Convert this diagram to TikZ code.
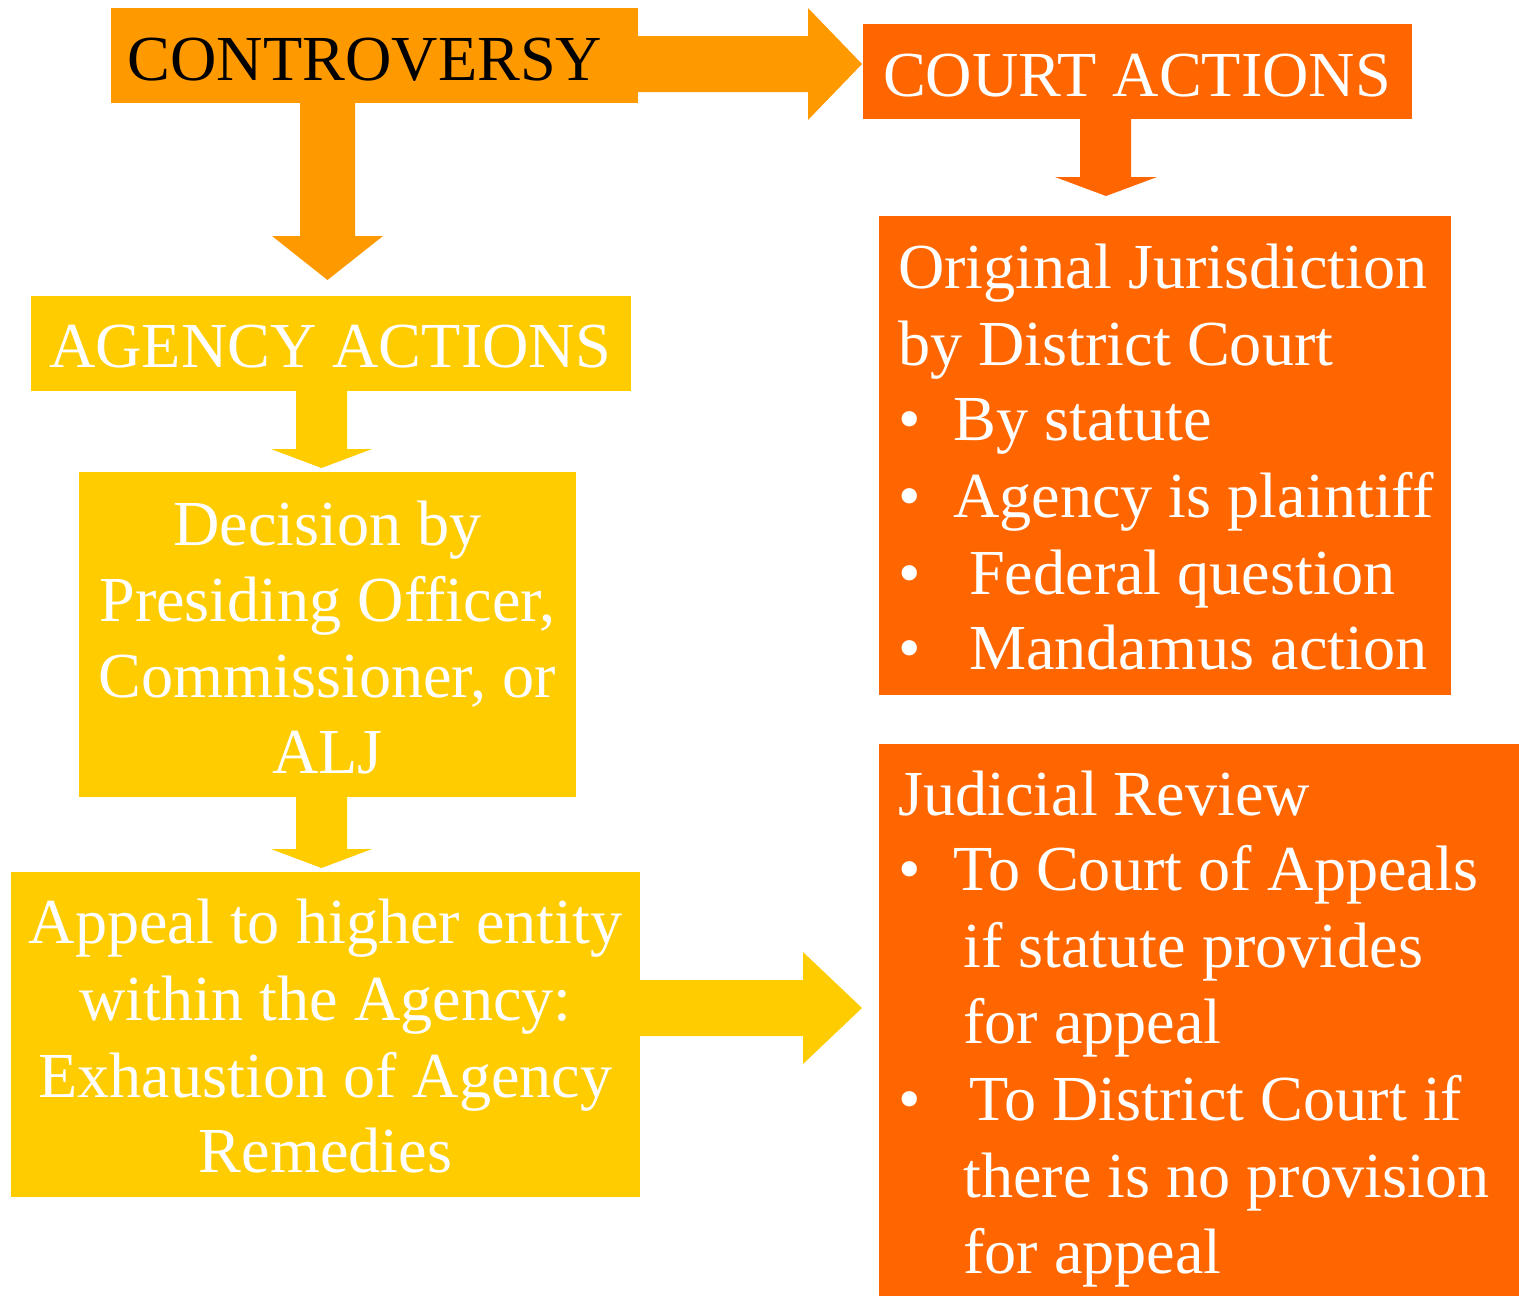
\documentclass[tikz,border=0pt]{standalone}
\usepackage{fontspec}
\setmainfont{Liberation Serif}
\definecolor{cOrangeA}{HTML}{FF9900}
\definecolor{cYellow}{HTML}{FFCC00}
\definecolor{cOrangeB}{HTML}{FF6600}
\begin{document}
\begin{tikzpicture}[x=1pt,y=-1pt,
  boxnode/.style={draw=none, inner sep=0pt, anchor=north west},
  txt/.style={font=\fontsize{64.2}{76}\selectfont, inner sep=0pt, text=white},
  ctxt/.style={txt, anchor=base},
  ltxt/.style={txt, anchor=base west}]
\useasboundingbox (0,0) rectangle (1519,1296);
% boxes
\node[boxnode, fill=cOrangeA, minimum width=527pt, minimum height=95pt] (contro) at (111,8) {};
\node[boxnode, fill=cOrangeB, minimum width=549pt, minimum height=95pt] (court) at (863,24) {};
\node[boxnode, fill=cYellow, minimum width=600pt, minimum height=95pt] (agency) at (31,296) {};
\node[boxnode, fill=cYellow, minimum width=497pt, minimum height=325pt] (decision) at (79,472) {};
\node[boxnode, fill=cYellow, minimum width=629pt, minimum height=325pt] (appeal) at (11,872) {};
\node[boxnode, fill=cOrangeB, minimum width=572pt, minimum height=479pt] (orig) at (879,216) {};
\node[boxnode, fill=cOrangeB, minimum width=640pt, minimum height=552pt] (judicial) at (879,744) {};
% block arrows
\fill[cOrangeA] (638,36) -- (808,36) -- (808,8) -- (862,64) -- (808,120) -- (808,92) -- (638,92) -- cycle;
\fill[cOrangeA] (300,103) -- (300,236) -- (272,236) -- (327.5,280) -- (383,236) -- (355,236) -- (355,103) -- cycle;
\fill[cYellow] (296,391) -- (296,449) -- (271,449) -- (321.5,468) -- (372,449) -- (347,449) -- (347,391) -- cycle;
\fill[cYellow] (296,797) -- (296,849) -- (271,849) -- (321.5,868) -- (372,849) -- (347,849) -- (347,797) -- cycle;
\fill[cYellow] (640,980) -- (803,980) -- (803,952) -- (862,1008) -- (803,1064) -- (803,1036) -- (640,1036) -- cycle;
\fill[cOrangeB] (1080,119) -- (1080,177) -- (1055,177) -- (1106,196) -- (1157,177) -- (1131,177) -- (1131,119) -- cycle;
% texts
\node[ctxt, text=black] (t1) at (365,80) {CONTROVERSY};
\node[ctxt] (t2) at (1137,96) {COURT ACTIONS};
\node[ctxt] (t3) at (330,367) {AGENCY ACTIONS};
\node[ctxt] (d1) at (327.5,545) {Decision by};
\node[ctxt] (d2) at (327.5,621) {Presiding Officer,};
\node[ctxt] (d3) at (327.5,697) {Commissioner, or};
\node[ctxt] (d4) at (327.5,773) {ALJ};
\node[ctxt] (a1) at (325.5,943) {Appeal to higher entity};
\node[ctxt] (a2) at (325.5,1020) {within the Agency:};
\node[ctxt] (a3) at (325.5,1097) {Exhaustion of Agency};
\node[ctxt] (a4) at (325.5,1172) {Remedies};
% original jurisdiction
\node[ltxt] (o1) at (898,288) {Original Jurisdiction};
\node[ltxt] (o2) at (898,365) {by District Court};
\node[ltxt] (ob3) at (898,440) {•};
\node[ltxt] (o3) at (953,440) {By statute};
\node[ltxt] (ob4) at (898,517) {•};
\node[ltxt] (o4) at (953,517) {Agency is plaintiff};
\node[ltxt] (ob5) at (898,594) {•};
\node[ltxt] (o5) at (969,594) {Federal question};
\node[ltxt] (ob6) at (898,669) {•};
\node[ltxt] (o6) at (969,669) {Mandamus action};
% judicial review
\node[ltxt] (j1) at (898,815) {Judicial Review};
\node[ltxt] (jb2) at (898,890) {•};
\node[ltxt] (j2) at (953,890) {To Court of Appeals};
\node[ltxt] (j3) at (963,967) {if statute provides};
\node[ltxt] (j4) at (963,1043) {for appeal};
\node[ltxt] (jb5) at (898,1120) {•};
\node[ltxt] (j5) at (969,1120) {To District Court if};
\node[ltxt] (j6) at (963,1197) {there is no provision};
\node[ltxt] (j7) at (963,1273) {for appeal};
\end{tikzpicture}
\end{document}
